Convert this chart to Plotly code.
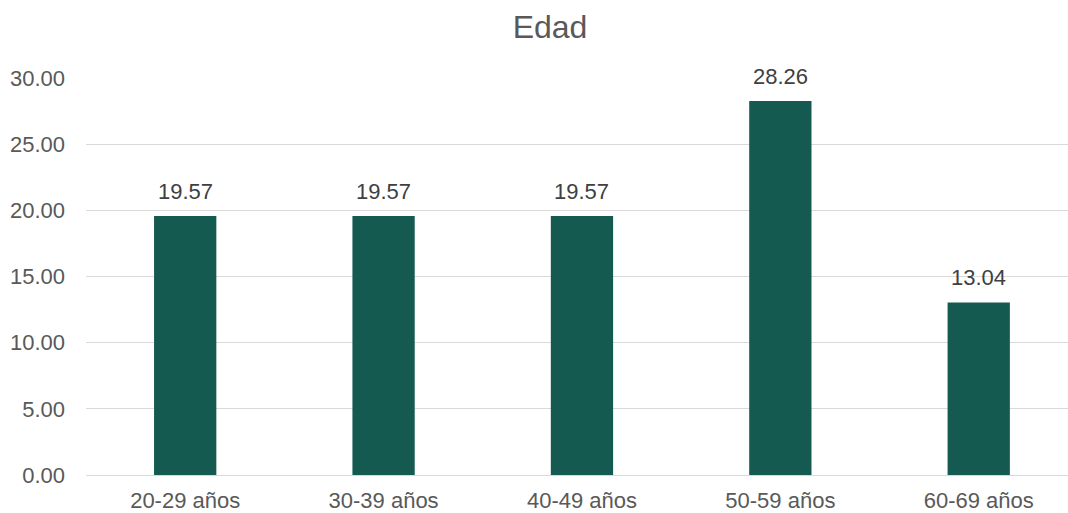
import plotly.graph_objects as go

# Distribución por grupo de edad (%)
categorias = ["20-29 años", "30-39 años", "40-49 años", "50-59 años", "60-69 años"]
valores = [19.57, 19.57, 19.57, 28.26, 13.04]
ticks_y = [0, 5, 10, 15, 20, 25, 30]

FONT = "Liberation Sans, Arial, sans-serif"

fig = go.Figure(
    go.Bar(
        x=categorias,
        y=valores,
        marker=dict(color="#155a50", line=dict(width=0)),
        hoverinfo="x+y",
    )
)

# Etiquetas de valor sobre cada barra
for cat, val in zip(categorias, valores):
    fig.add_annotation(
        x=cat,
        y=val,
        text=f"{val:.2f}",
        showarrow=False,
        xanchor="center",
        yanchor="middle",
        yshift=25,
        font=dict(family=FONT, size=22, color="#404040"),
    )

fig.update_layout(
    width=1068,
    height=513,
    margin=dict(l=86, r=0, t=78, b=38),
    paper_bgcolor="white",
    plot_bgcolor="white",
    bargap=0.686,
    showlegend=False,
    title=dict(
        text="Edad",
        x=550 / 1068,
        xanchor="center",
        y=1 - 27 / 513,
        yanchor="middle",
        font=dict(family=FONT, size=32, color="#595959"),
    ),
)

fig.update_yaxes(
    range=[0, 30],
    tickvals=ticks_y,
    tickformat=".2f",
    showgrid=True,
    gridcolor="#d9d9d9",
    gridwidth=1,
    zeroline=False,
    showline=False,
    ticks="",
    ticklabelstandoff=20,
    tickfont=dict(family=FONT, size=22, color="#595959"),
)

fig.update_xaxes(
    range=[-0.5, 4.45],
    showline=True,
    linecolor="#d9d9d9",
    linewidth=1,
    ticks="",
    ticklabelstandoff=6,
    tickfont=dict(family=FONT, size=22, color="#595959"),
)

fig.write_html("out.html")
